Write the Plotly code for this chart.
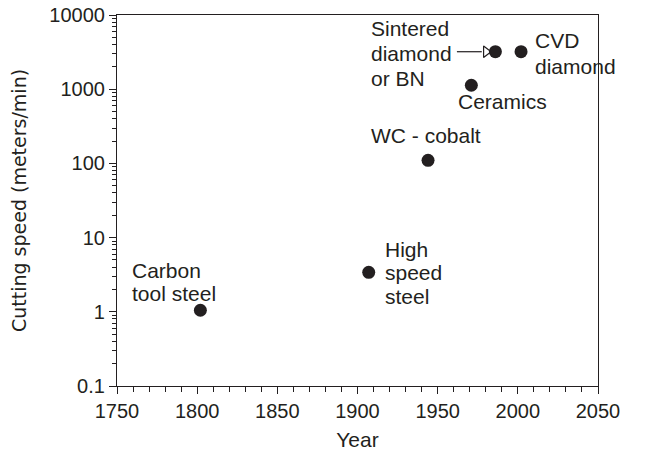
import numpy as np
import plotly.graph_objects as go

materials = ["Carbon tool steel", "High speed steel", "WC - cobalt", "Ceramics",
             "Sintered diamond or BN", "CVD diamond"]
years = [1802, 1907, 1944, 1971, 1986, 2002]
speeds = [1.05, 3.4, 110, 1130, 3200, 3200]
label_lines = [["Carbon", "tool steel"], ["High", "speed", "steel"], ["WC - cobalt"],
               ["Ceramics"], ["Sintered", "diamond", "or BN"], ["CVD", "diamond"]]
y_tick_vals = [0.1, 1, 10, 100, 1000, 10000]
y_tick_text = ["0.1", "1", "10", "100", "1000", "10000"]
x_tick_vals = [1750, 1800, 1850, 1900, 1950, 2000, 2050]

INK = "#231f20"
FONT = "Liberation Sans, Arial, Helvetica, sans-serif"

fig = go.Figure()
fig.add_trace(go.Scatter(x=years, y=speeds, mode="markers",
                         marker=dict(size=13, color=INK), hoverinfo="x+y",
                         showlegend=False))

# arrow pointing at sintered diamond
sx, sy = years[4], speeds[4]
fig.add_trace(go.Scatter(x=[sx - 24, sx - 8.5], y=[sy, sy], mode="lines",
                         line=dict(color=INK, width=1.2), showlegend=False, hoverinfo="skip"))
fig.add_trace(go.Scatter(x=[sx - 5.8], y=[sy], mode="markers",
                         marker=dict(symbol="triangle-right-open", size=10,
                                     color=INK, line=dict(width=1.2, color=INK)),
                         showlegend=False, hoverinfo="skip"))

# label placement (pixels) relative to each point: x shift, y shift of each line
label_dx = [-70, 14, -59, -15, -126, 12]
label_dy = [[40, 17], [23, 0, -24], [25], [-16], [23, -2, -27], [11, -15]]
for x, y, lines, dx, dys in zip(years, speeds, label_lines, label_dx, label_dy):
    for line, dy in zip(lines, dys):
        fig.add_annotation(x=x, y=np.log10(y), xref="x", yref="y", text=line,
                           showarrow=False, xanchor="left", yanchor="middle", align="left",
                           xshift=dx, yshift=dy, font=dict(size=21, color=INK, family=FONT))

fig.update_xaxes(range=[1750, 2050], tickvals=x_tick_vals, ticks="outside", ticklen=7,
                 tickwidth=1, tickcolor=INK, showline=True, linecolor=INK, linewidth=1.2,
                 mirror=True, showgrid=False, zeroline=False, automargin=False,
                 minor=dict(dtick=10, tick0=1750, ticks="outside", ticklen=5, tickcolor=INK),
                 title=dict(text="Year", font=dict(size=21, color=INK, family=FONT), standoff=11),
                 tickfont=dict(size=20, color=INK, family=FONT))
fig.update_yaxes(type="log", range=[-1, 4], tickvals=y_tick_vals, ticktext=y_tick_text,
                 ticks="outside", ticklen=7, tickwidth=1, tickcolor=INK,
                 showline=True, linecolor=INK, linewidth=1.2, mirror=True,
                 showgrid=False, zeroline=False, automargin=False,
                 minor=dict(ticks="outside", ticklen=4, tickcolor=INK, dtick="D1"),
                 title=dict(text="Cutting speed (meters/min)",
                            font=dict(size=19, color=INK, family="DejaVu Sans, sans-serif"),
                            standoff=17),
                 tickfont=dict(size=20, color=INK, family=FONT))

fig.update_layout(width=647, height=453, margin=dict(l=117, r=49, t=15, b=67),
                  paper_bgcolor="white", plot_bgcolor="white",
                  font=dict(family=FONT, color=INK))
fig.write_html("out.html", config={"displayModeBar": False},
               post_script="document.body.style.margin='0';")
